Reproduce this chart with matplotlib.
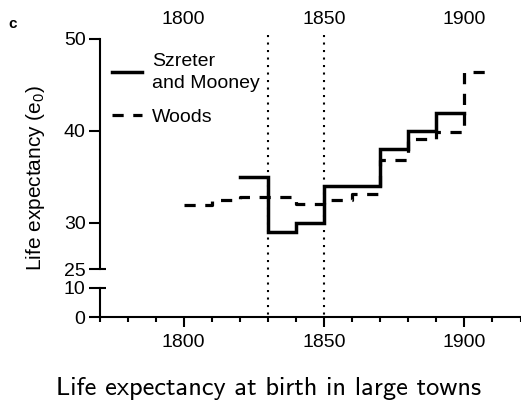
import numpy as np
import matplotlib
matplotlib.use("Agg")
import matplotlib.pyplot as plt
from matplotlib.transforms import blended_transform_factory
from matplotlib.ticker import MultipleLocator

# Life expectancy at birth (e0) in large towns, by decade
sm_years = [1820, 1830, 1840, 1850, 1860, 1870, 1880, 1890]
sm_e0 = [35, 29, 30, 34, 34, 38, 40, 42]
sm_end = 1900

woods_years = [1800, 1810, 1820, 1830, 1840, 1850, 1860, 1870, 1880, 1890, 1900]
woods_e0 = [32.0, 32.5, 32.8, 32.8, 32.1, 32.5, 33.1, 36.8, 39.1, 39.9, 46.4]
woods_end = 1910

marked_years = [1830, 1850]

x_major = [1800, 1850, 1900]
upper_yticks = [25, 30, 40, 50]
lower_yticks = [0, 10]

plt.rcParams['font.family'] = ['Liberation Sans', 'DejaVu Sans']

W, H = 521, 403
fig = plt.figure(figsize=(W / 100, H / 100), dpi=100)

def fx(px):
    return px / W

def fy(py):
    return 1 - py / H

left, right = 99.5, 520.5
ax = fig.add_axes([fx(left), fy(269), fx(right - left), fy(39) - fy(269)])
axl = fig.add_axes([fx(left), fy(317), fx(right - left), fy(288) - fy(317)])

lw_axis = 1.5
for a in (ax, axl):
    a.set_xlim(1770, 1920)
    a.spines['top'].set_visible(False)
    a.spines['right'].set_visible(False)
    a.spines['left'].set_linewidth(lw_axis)
    a.spines['bottom'].set_linewidth(lw_axis)
    a.patch.set_alpha(0)

ax.set_ylim(25, 50)
axl.set_ylim(0, 10)
ax.spines['bottom'].set_visible(False)
ax.set_xticks([])
ax.set_yticks(upper_yticks)
axl.set_yticks(lower_yticks)
for a in (ax, axl):
    a.tick_params(axis='y', direction='out', length=8, width=lw_axis,
                  labelsize=14, pad=2)

axl.set_xticks(x_major)
axl.xaxis.set_minor_locator(MultipleLocator(10))
axl.tick_params(axis='x', which='major', length=7.5, width=lw_axis,
                labelsize=14, pad=5)
axl.tick_params(axis='x', which='minor', length=3.8, width=lw_axis)

# Break marks at 25 and 10 extend across the spine
ytr_u = ax.get_yaxis_transform()
ytr_l = axl.get_yaxis_transform()
stub = 6 / (right - left)
ax.plot([0, stub], [25, 25], color='black', lw=lw_axis, transform=ytr_u,
        clip_on=False, solid_capstyle='butt')
axl.plot([0, stub], [10, 10], color='black', lw=lw_axis, transform=ytr_l,
         clip_on=False, solid_capstyle='butt')

# Top year labels
top = ax.secondary_xaxis('top')
top.set_xticks(x_major)
top.tick_params(length=0, labelsize=14, pad=8)
top.spines['top'].set_visible(False)

# Data
sx = np.append(sm_years, sm_end)
sy = np.append(sm_e0, sm_e0[-1])
wx = np.append(woods_years, woods_end)
wy = np.append(woods_e0, woods_e0[-1])
h1, = ax.step(sx, sy, where='post', color='black', lw=2.5,
              solid_joinstyle='miter', label='Szreter\nand Mooney')
h2, = ax.step(wx, wy, where='post', color='black', lw=2.3,
              dashes=(3.5, 3), label='Woods')

# Dotted reference years spanning both panels
btr = blended_transform_factory(ax.transData, fig.transFigure)
for yr in marked_years:
    ax.plot([yr, yr], [fy(35), fy(317)], color='black', lw=1.5,
            dashes=(1, 2.6), transform=btr, clip_on=False)

leg = ax.legend(handles=[h1, h2], loc='upper left', frameon=False,
                bbox_to_anchor=(fx(112), fy(53)), bbox_transform=fig.transFigure,
                fontsize=14, handlelength=1.55, handletextpad=0.5,
                labelspacing=0.85, borderpad=0, borderaxespad=0)
leg.get_texts()[0].set_linespacing(1.38)

fig.text(fx(36), fy(178), 'Life expectancy ($\\mathregular{e_0}$)',
         rotation=90, ha='center', va='center', fontsize=15)
fig.text(fx(13), fy(24), 'c', fontweight='bold', fontsize=11,
         ha='center', va='center')
fig.text(fx(269), fy(395), 'Life expectancy at birth in large towns',
         family='cmss10', fontsize=19, ha='center', va='baseline')

fig.savefig('out.png', dpi=100)
